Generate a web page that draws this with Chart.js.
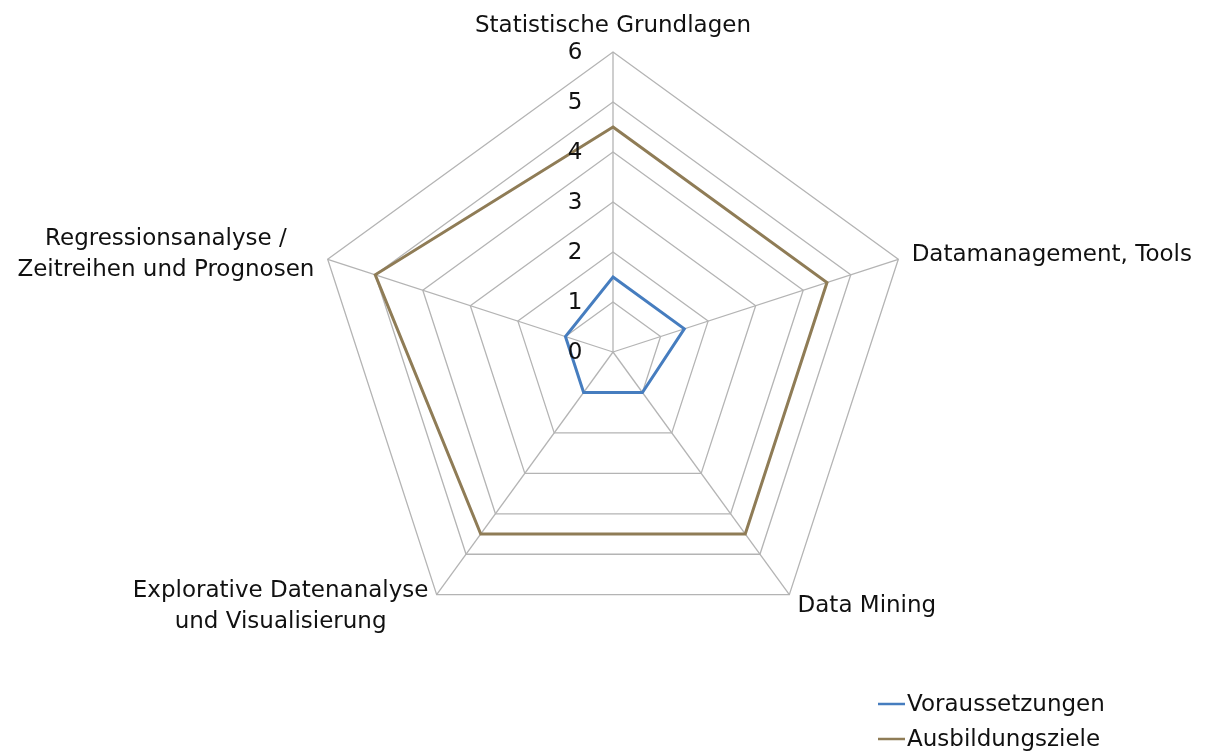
<!DOCTYPE html>
<html>
<head>
<meta charset="utf-8">
<title>Radar</title>
<script src="https://cdn.jsdelivr.net/npm/chart.js@4.4.1/dist/chart.umd.min.js"></script>
<style>
  html, body { margin: 0; padding: 0; background: #fff; }
</style>
</head>
<body>
<canvas id="chart" width="1212" height="756"></canvas>
<script>
const categories = [
  'Statistische Grundlagen',
  'Datamanagement, Tools',
  'Data Mining',
  ['Explorative Datenanalyse', 'und Visualisierung'],
  ['Regressionsanalyse /', 'Zeitreihen und Prognosen']
];
const seriesNames = ['Voraussetzungen', 'Ausbildungsziele'];
const voraussetzungen = [1.5, 1.5, 1, 1, 1];
const ausbildungsziele = [4.5, 4.5, 4.5, 4.5, 5];
const tickValues = [0, 1, 2, 3, 4, 5, 6];

const FONT = '"DejaVu Sans", "Liberation Sans", sans-serif';
const TEXT = '#111';

// Excel-style texts: ticks beside the vertical axis, centred category labels, legend bottom right
const excelText = {
  id: 'excelText',
  afterDatasetsDraw(chart) {
    const r = chart.scales.r;
    const ctx = chart.ctx;
    ctx.save();
    ctx.font = '23px ' + FONT;
    ctx.fillStyle = TEXT;
    ctx.textAlign = 'center';
    ctx.textBaseline = 'middle';

    r.ticks.forEach(t => {
      const y = r.yCenter - r.getDistanceFromCenterForValue(t.value);
      ctx.fillText(t.label, r.xCenter - 38, y + 1);
    });

    const lineH = 31;
    chart.data.labels.forEach((lab, i) => {
      const lines = [].concat(lab);
      const p = r.getPointPosition(i, r.drawingArea + (i === 0 ? 10 : 14));
      const w = Math.max(...lines.map(l => ctx.measureText(l).width));
      let cx = p.x;
      if (p.x - r.xCenter > 1) cx = p.x + w / 2;
      else if (r.xCenter - p.x > 1) cx = p.x - w / 2;
      const h = lines.length * lineH;
      const top = i === 0 ? p.y - h : p.y - h / 2;
      lines.forEach((l, k) => ctx.fillText(l, cx, top + lineH * (k + 0.5)));
    });

    // legend
    const lx = chart.width - 334;
    let ly = chart.height - 52;
    ctx.textAlign = 'left';
    chart.data.datasets.forEach(ds => {
      ctx.strokeStyle = ds.borderColor;
      ctx.lineWidth = 2.5;
      ctx.beginPath();
      ctx.moveTo(lx, ly);
      ctx.lineTo(lx + 27, ly);
      ctx.stroke();
      ctx.fillText(ds.label, lx + 29, ly + 1);
      ly += 35;
    });
    ctx.restore();
  }
};

new Chart(document.getElementById('chart'), {
  type: 'radar',
  data: {
    labels: categories,
    datasets: [{
      label: seriesNames[0],
      data: voraussetzungen,
      borderColor: '#467dbf',
      borderWidth: 3,
      fill: false,
      pointRadius: 0,
      tension: 0
    }, {
      label: seriesNames[1],
      data: ausbildungsziele,
      borderColor: '#8f7c56',
      borderWidth: 3,
      fill: false,
      pointRadius: 0,
      tension: 0
    }]
  },
  options: {
    responsive: false,
    animation: false,
    devicePixelRatio: 1,
    layout: {
      padding: { top: 52, bottom: 104, left: 313, right: 299 }
    },
    plugins: {
      legend: { display: false },
      tooltip: { enabled: false }
    },
    scales: {
      r: {
        min: tickValues[0],
        max: tickValues[tickValues.length - 1],
        afterBuildTicks: scale => {
          scale.ticks = tickValues.map(v => ({ value: v }));
        },
        ticks: { display: false },
        pointLabels: { display: false },
        grid: { color: '#b4b4b4', lineWidth: 1.3 },
        angleLines: { color: '#b4b4b4', lineWidth: 1.3 }
      }
    }
  },
  plugins: [excelText]
});
</script>
</body>
</html>
